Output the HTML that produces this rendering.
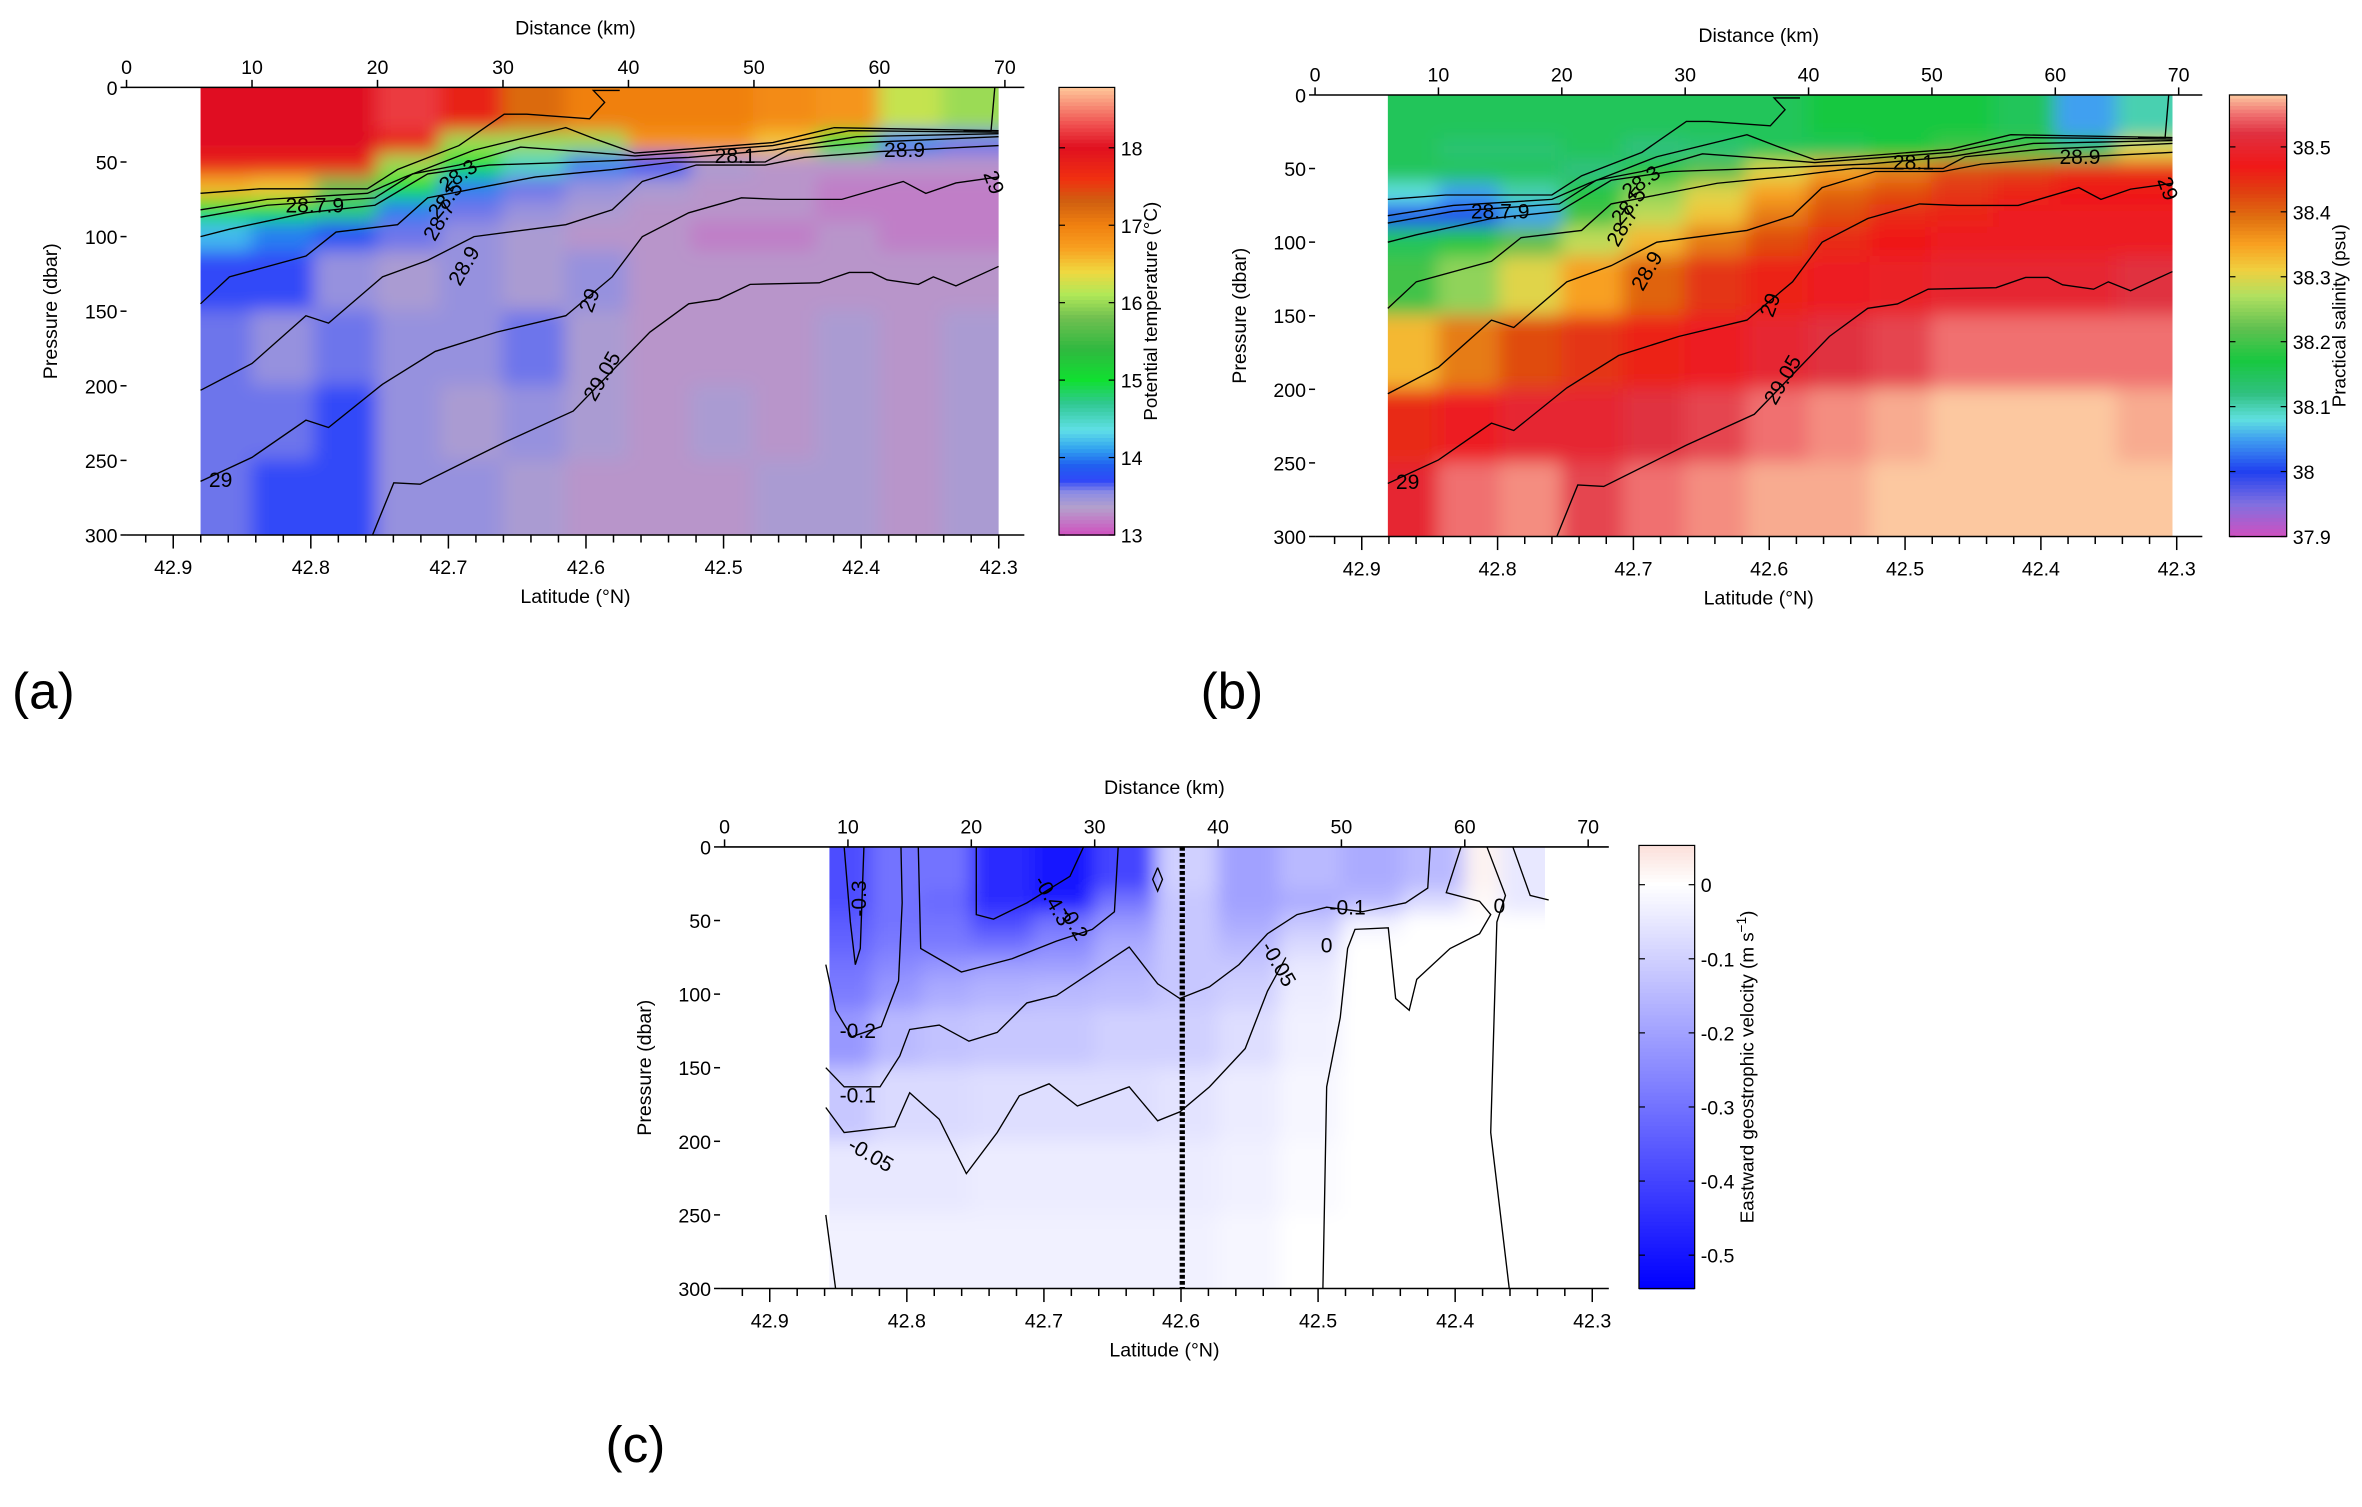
<!DOCTYPE html>
<html><head><meta charset="utf-8"><style>
html,body{margin:0;padding:0;background:#fff}
svg{display:block}
text{font-family:"Liberation Sans Narrow","Liberation Sans",sans-serif;fill:#000}
</style></head><body>
<svg id="fig" xmlns="http://www.w3.org/2000/svg" width="2362" height="1507" viewBox="0 0 1568 1000" preserveAspectRatio="none">
<defs>
<filter id="blur" x="-10%" y="-10%" width="120%" height="120%"><feGaussianBlur stdDeviation="6"/></filter>
</defs>
</svg>
<script>
// ---------- DATA ----------
const depthEdges = [0,30,45,60,75,90,110,150,200,250,300];
const tsDistEdges = [5.9,10,15,20,25,30,35,40,45,50,55,60,65,69.5];
const tempGrid = [
[18,18,18,18.2,17.8,17.2,17,17,17,16.9,16.8,16.2,16],
[18,18,18,17.8,16,16,16,16.8,16.8,16.5,15,14,13.6],
[17.8,17.8,17.8,16,15,14.5,14,13.8,13.4,13.3,13.3,13.3,13.3],
[16.6,16.5,15.8,15,14,13.6,13.5,13.4,13.3,13.3,13.2,13.2,13.2],
[15,15,14.8,14,13.6,13.5,13.4,13.3,13.3,13.3,13.2,13.2,13.2],
[14.2,14,13.8,13.6,13.5,13.4,13.3,13.3,13.2,13.2,13.3,13.2,13.2],
[13.7,13.7,13.5,13.4,13.5,13.4,13.5,13.3,13.3,13.3,13.3,13.3,13.3],
[13.6,13.5,13.6,13.5,13.5,13.6,13.4,13.3,13.3,13.3,13.4,13.3,13.4],
[13.6,13.6,13.7,13.5,13.4,13.5,13.4,13.3,13.4,13.3,13.4,13.3,13.4],
[13.6,13.7,13.7,13.5,13.5,13.4,13.3,13.3,13.3,13.4,13.4,13.3,13.4]];
const salGrid = [
[38.15,38.15,38.15,38.15,38.15,38.15,38.15,38.17,38.17,38.17,38.15,38.05,38.1],
[38.15,38.13,38.13,38.15,38.12,38.13,38.15,38.15,38.17,38.2,38.2,38.15,38.3],
[38.15,38.15,38.15,38.12,38.18,38.22,38.3,38.35,38.38,38.42,38.43,38.45,38.45],
[38.08,38.05,38.1,38.18,38.25,38.3,38.35,38.4,38.42,38.44,38.46,38.47,38.47],
[38.0,38.0,38.05,38.2,38.28,38.32,38.38,38.42,38.45,38.46,38.48,38.48,38.48],
[38.15,38.18,38.22,38.28,38.33,38.38,38.42,38.45,38.47,38.48,38.48,38.48,38.48],
[38.2,38.25,38.3,38.35,38.4,38.44,38.46,38.48,38.49,38.5,38.5,38.5,38.52],
[38.33,38.38,38.42,38.44,38.46,38.48,38.5,38.52,38.53,38.55,38.55,38.55,38.55],
[38.45,38.48,38.5,38.5,38.52,38.53,38.55,38.56,38.57,38.58,38.58,38.58,38.57],
[38.5,38.55,38.56,38.53,38.55,38.56,38.57,38.57,38.58,38.58,38.58,38.58,38.58]];
const velDistEdges = [8.5,12,16,20,25,30,35,40,45,50,55,60,63,66.5];
const velGrid = [
[-0.38,-0.3,-0.3,-0.45,-0.5,-0.4,-0.1,-0.2,-0.15,-0.18,-0.15,0.02,-0.05],
[-0.38,-0.3,-0.32,-0.45,-0.48,-0.3,-0.12,-0.2,-0.18,-0.15,-0.08,0.01,-0.05],
[-0.35,-0.3,-0.3,-0.38,-0.3,-0.22,-0.12,-0.18,-0.12,-0.03,0,0,0],
[-0.33,-0.28,-0.28,-0.3,-0.25,-0.18,-0.12,-0.15,-0.08,0,0,0,0],
[-0.3,-0.25,-0.22,-0.2,-0.2,-0.16,-0.12,-0.12,-0.05,0,0,0,0],
[-0.28,-0.22,-0.18,-0.16,-0.15,-0.14,-0.12,-0.1,-0.04,0,0,0,0],
[-0.22,-0.15,-0.13,-0.12,-0.12,-0.1,-0.1,-0.07,-0.03,0,0,0,0],
[-0.12,-0.08,-0.08,-0.07,-0.07,-0.07,-0.06,-0.04,-0.02,0,0,0,0],
[-0.05,-0.05,-0.05,-0.04,-0.04,-0.04,-0.04,-0.03,-0.01,0,0,0,0],
[-0.03,-0.03,-0.03,-0.03,-0.03,-0.03,-0.03,-0.02,0,0,0,0,0]];
// density contours [distance km, pressure dbar]
const c2905 = [[19.6,300],[21.3,265],[23.4,266],[27.7,248],[30.1,238],[35.6,217],[38.7,190],[41.7,164],[44.8,145],[47.2,142],[49.7,132],[55.2,131],[57.6,124],[59.4,124],[60.6,129],[63.1,132],[64.3,127],[66.1,133],[69.5,120]];
const c29 = [[5.9,264],[10,248],[14.3,223],[16.1,228],[20.4,199],[24.6,177],[29.5,164],[35,153],[38.7,127],[41.1,100],[44.8,84],[49,74],[52.1,75],[57,75],[61.9,63],[63.7,71],[66.1,64],[69.5,60]];
const c289 = [[5.9,203],[10,185],[14.3,153],[16.1,158],[20.4,127],[24,116],[27.7,100],[35,92],[38.7,82],[41.1,63],[45.4,52],[50.9,52],[54,47],[60,43],[69.5,39]];
const c287 = [[5.9,145],[8.2,127],[14.3,113],[16.7,97],[21.6,92],[24,74],[28.9,66],[32.6,60],[38.7,55],[43.6,50],[50.9,50],[52.7,42],[58.8,37],[69.5,33]];
const c285 = [[5.9,100],[8.2,95],[14.3,84],[19.8,79],[24,58],[28.9,52],[36.2,50],[44.8,47],[51.5,42],[58.2,33],[69.5,31]];
const c283 = [[5.9,87],[11.2,79],[19.8,74],[22.8,58],[26.5,52],[31.4,40],[36.2,43],[40.5,46],[51.5,39],[57.6,29],[69.5,30]];
const c281 = [[5.9,82],[11.2,75],[19.2,71],[22.2,60],[27.7,42],[35,27],[37.5,35],[40.5,44],[51.5,37],[56.4,27],[69.5,29]];
const c279 = [[5.9,71],[10.6,68],[19.2,68],[21.6,55],[26.5,39],[30.1,18],[31.9,18],[36.9,21],[38.1,10],[37.2,2],[39.3,2]];
const c279b = [[69.2,0],[68.9,29],[66.7,29]];
const densityContours = [c2905,c29,c289,c287,c285,c283,c281,c279,c279b];
const densityLabels = [["28.1",48.5,47,0],["28.7.9",15,80,0],["28.3",26.5,60,-35],["28.5",25.5,76,-50],["28.7",25,90,-60],["28.9",27,120,-60],["29",37,143,-70],["29.05",38,194,-60],["29",7.5,264,0],["28.9",62,43,0],["29",69,64,70]];
// velocity contours
const vN03 = [[9.7,0],[10.2,51],[10.6,80],[11,69],[11.3,0]];
const vN02a = [[8.2,80],[9,111],[10.3,129],[12.7,122],[14.1,91],[14.4,38],[14.3,0]];
const vN03b = [[15.7,0],[15.9,69],[19.2,85],[23.3,76],[26.9,64],[29.8,56],[31.6,44],[31.9,0]];
const vN04 = [[20.4,0],[20.4,46],[21.8,49],[24.5,38],[28,20],[29.1,0]];
const vN01 = [[8.2,150],[9.7,163],[12.6,163],[14.2,142],[15,124],[17.4,121],[19.8,132],[22.1,126],[24.5,106],[26.9,101],[32.8,68],[35.1,93],[36.9,103],[39.3,95],[41.7,80],[44,59],[46.4,46],[48.8,41],[51.7,44],[55.2,38],[57,28],[57.2,0]];
const vN005 = [[8.2,177],[9.7,194],[13.8,190],[15,167],[17.4,185],[19.6,222],[22.1,194],[23.9,169],[26.3,161],[28.6,176],[32.8,163],[35.1,186],[36.9,180],[39.3,163],[42.2,137],[44,98],[45.5,75]];
const vZero1 = [[59.7,0],[58.5,31],[61.2,37],[62.1,46],[61.2,59],[58.8,69],[56.1,90],[55.5,111],[54.4,103],[53.8,55],[51.1,56],[50.5,69],[49.9,116],[48.8,163],[48.5,300]];
const vZero2 = [[61.8,0],[63.3,33],[62.6,51],[62.1,194],[63.6,300]];
const vZero3 = [[63.9,0],[65.3,33],[66.8,36]];
const vZero4 = [[8.2,250],[9,300]];
const vZeroLoop = [[35.1,14],[34.7,22],[35.1,30],[35.5,22],[35.1,14]];
const velContours = [vN03,vN02a,vN03b,vN04,vN01,vN005,vZero1,vZero2,vZero3,vZero4,vZeroLoop];
const velLabels = [["-0.3",11,35,-90],["-0.4.3",26.5,37,60],["-0.2",28.2,52,60],["-0.2",10.8,126,0],["-0.1",10.8,170,0],["-0.05",11.8,210,30],["-0.05",44.8,80,60],["-0.1",50.5,42,0],["0",48.8,68,0],["0",62.8,41,0]];
const sectionDistance = 37.1;
const distTicks = [0,10,20,30,40,50,60,70];
const presTicks = [0,50,100,150,200,250,300];
const latTicks = ["42.9","42.8","42.7","42.6","42.5","42.4","42.3"];
const tempCbTicks = [13,14,15,16,17,18];
const salCbTicks = ["37.9","38","38.1","38.2","38.3","38.4","38.5"];
const velCbTicks = ["0","-0.1","-0.2","-0.3","-0.4","-0.5"];

// ---------- colormaps ----------
const tempStops=[[13,'#d050c0'],[13.35,'#b4a0cc'],[13.55,'#8c8ce4'],[13.7,'#3048f8'],[13.9,'#2060f0'],[14.1,'#30a0f0'],[14.35,'#60e0e8'],[14.7,'#30c890'],[15,'#10e030'],[15.4,'#30b840'],[15.8,'#70c050'],[16.1,'#b0e858'],[16.4,'#f0d840'],[16.7,'#f8a020'],[17,'#f08010'],[17.3,'#d06010'],[17.6,'#f03010'],[18,'#e01020'],[18.3,'#f05050'],[18.78,'#ffc89a']];
const salStops=[[37.9,'#d050c0'],[37.95,'#8070e0'],[38.0,'#2040f0'],[38.05,'#40a0f0'],[38.08,'#60e0e0'],[38.12,'#30c080'],[38.17,'#18c840'],[38.22,'#60c050'],[38.27,'#b0e060'],[38.31,'#f0d040'],[38.35,'#f8a020'],[38.39,'#e07010'],[38.43,'#e04010'],[38.47,'#f01818'],[38.52,'#e03040'],[38.55,'#f07070'],[38.58,'#fcc8a0']];
const velStops=[[-0.545,'#0000ff'],[0,'#ffffff'],[0.053,'#fbe0da']];
function hex(c){return [parseInt(c.slice(1,3),16),parseInt(c.slice(3,5),16),parseInt(c.slice(5,7),16)];}
function cmap(stops,v){
  if(v<=stops[0][0])return stops[0][1];
  for(let i=1;i<stops.length;i++){if(v<=stops[i][0]){const a=hex(stops[i-1][1]),b=hex(stops[i][1]);const t=(v-stops[i-1][0])/(stops[i][0]-stops[i-1][0]);return 'rgb('+a.map((x,k)=>Math.round(x+(b[k]-x)*t)).join(',')+')';}}
  return stops[stops.length-1][1];
}
const NS='http://www.w3.org/2000/svg';
const svg=document.getElementById('fig');
function el(tag,attrs,parent){const e=document.createElementNS(NS,tag);for(const k in attrs)e.setAttribute(k,attrs[k]);(parent||svg).appendChild(e);return e;}

function panel(P){
  const g=el('g',{});
  
  
  const X=d=>P.x0+d*P.kx, Y=p=>P.T+p*(P.B-P.T)/300;
  const LX=lat=>P.lat09+(42.9-lat)*(P.lat03-P.lat09)/0.6;
  const cp=el('clipPath',{id:'clip'+P.id},g);
  el('rect',{x:X(P.edges[0]),y:P.T,width:X(P.edges[P.edges.length-1])-X(P.edges[0]),height:P.B-P.T},cp);
  const hg=el('g',{'clip-path':'url(#clip'+P.id+')'},g);
  
  
  const hb=el('g',{filter:'url(#blur)'},hg);
  const E=30;
  for(let j=0;j<depthEdges.length-1;j++)for(let i=0;i<P.edges.length-1;i++){
    const x1=X(P.edges[i]),x2=X(P.edges[i+1]),y1=Y(depthEdges[j]),y2=Y(depthEdges[j+1]);
    const r=el('rect',{x:x1-0.5-(i==0?E:0),y:y1-0.5-(j==0?E:0),width:x2-x1+1+(i==0?E:0)+(i==P.edges.length-2?E:0),height:y2-y1+1+(j==0?E:0)+(j==depthEdges.length-2?E:0),fill:cmap(P.stops,P.grid[j][i])},hb);
    
    
  }
  P.contours.forEach(c=>{
    const pl=el('polyline',{points:c.map(q=>X(q[0]).toFixed(1)+','+Y(q[1]).toFixed(1)).join(' '),fill:'none',stroke:'#000','stroke-width':0.9},g);
    
    
  });
  P.labels.forEach(l=>{
    const t=el('text',{x:X(l[1]),y:Y(l[2]),'font-size':14,'text-anchor':'middle','dominant-baseline':'middle',transform:'rotate('+l[3]+' '+X(l[1])+' '+Y(l[2])+')'},g);
    t.textContent=l[0];
    
    
  });
  if(P.dashed!==undefined){
    const dl=el('line',{x1:X(P.dashed),x2:X(P.dashed),y1:P.T,y2:P.B,stroke:'#000','stroke-width':3.5,'stroke-dasharray':'2.5,1.5'},g);
    
    
  }
  const ax=el('g',{stroke:'#000','stroke-width':1},g);
  
  
  el('line',{x1:P.L,x2:P.R,y1:P.T,y2:P.T},ax);
  el('line',{x1:P.L,x2:P.R,y1:P.B,y2:P.B},ax);
  distTicks.forEach(d=>{
    el('line',{x1:X(d),x2:X(d),y1:P.T,y2:P.T-5},ax);
    const t=el('text',{x:X(d),y:P.T-9,'font-size':13,'text-anchor':'middle',stroke:'none'},g);
    t.textContent=d;
    
    
  });
  presTicks.forEach(p=>{
    el('line',{x1:P.L-4,x2:P.L,y1:Y(p),y2:Y(p)},ax);
    const t=el('text',{x:P.L-6,y:Y(p)+5,'font-size':13,'text-anchor':'end',stroke:'none'},g);
    t.textContent=p;
    
    
  });
  for(let k=0;k<=32;k++){const lat=42.94-k*0.02;const x=LX(lat);if(x<P.L||x>P.R)continue;
    const major=Math.abs(Math.round(lat*10)-lat*10)<1e-6;
    el('line',{x1:x,x2:x,y1:P.B,y2:P.B+(major?9:5)},ax);}
  latTicks.forEach(s=>{
    const t=el('text',{x:LX(+s),y:P.B+26,'font-size':13,'text-anchor':'middle'},g);
    t.textContent=s;
    
    
  });
  const mid=(P.L+P.R)/2;
  let t=el('text',{x:mid,y:P.T-35,'font-size':13,'text-anchor':'middle'},g);t.textContent='Distance (km)';
  
  
  t=el('text',{x:mid,y:P.B+45,'font-size':13,'text-anchor':'middle'},g);t.textContent='Latitude (°N)';
  
  
  t=el('text',{x:0,y:0,'font-size':13,'text-anchor':'middle',transform:'translate('+(P.L-46)+','+((P.T+P.B)/2)+') rotate(-90)','font-family':'Liberation Sans, sans-serif'},g);t.textContent='Pressure (dbar)';
  
  
  const cb=el('g',{},g);
  
  
  const CY=v=>P.cb.top+(P.cb.vmax-v)*(P.cb.bot-P.cb.top)/(P.cb.vmax-P.cb.vmin);
  const n=120;
  for(let k=0;k<n;k++){const y1=P.cb.top+k*(P.cb.bot-P.cb.top)/n;const v=P.cb.vmax-(k+0.5)*(P.cb.vmax-P.cb.vmin)/n;
    el('rect',{x:P.cb.x,y:y1,width:P.cb.w,height:(P.cb.bot-P.cb.top)/n+0.6,fill:cmap(P.stops,v)},cb);}
  el('rect',{x:P.cb.x,y:P.cb.top,width:P.cb.w,height:P.cb.bot-P.cb.top,fill:'none',stroke:'#000','stroke-width':0.8},cb);
  P.cb.ticks.forEach(s=>{const y=CY(+s);
    el('line',{x1:P.cb.x+P.cb.w-4,x2:P.cb.x+P.cb.w,y1:y,y2:y,stroke:'#000','stroke-width':0.8},cb);
    el('line',{x1:P.cb.x,x2:P.cb.x+4,y1:y,y2:y,stroke:'#000','stroke-width':0.8},cb);
    const tt=el('text',{x:P.cb.x+P.cb.w+4,y:y+5,'font-size':13},cb);tt.textContent=s;
    
    
  });
  t=el('text',{x:0,y:0,'font-size':12.5,'text-anchor':'middle','font-family':'Liberation Sans, sans-serif',transform:'translate('+(P.cb.x+P.cb.w+P.cb.toff)+','+((P.cb.top+P.cb.bot)/2)+') rotate(-90)'},cb);
  t.innerHTML=P.cb.title;
  
  
}

panel({id:'a',name:'panel-a-temperature',L:84,R:680,T:58,B:355,x0:84,kx:8.33,lat09:115,lat03:663,edges:tsDistEdges,grid:tempGrid,stops:tempStops,contours:densityContours,labels:densityLabels,
  cb:{x:703,w:37,top:58,bot:355,vmax:18.78,vmin:13,ticks:tempCbTicks,toff:28,title:'Potential temperature (°C)'}});
panel({id:'b',name:'panel-b-salinity',L:873,R:1462,T:63,B:356,x0:873,kx:8.19,lat09:904,lat03:1445,edges:tsDistEdges,grid:salGrid,stops:salStops,contours:densityContours,labels:densityLabels,
  cb:{x:1480,w:38,top:63,bot:356,vmax:38.58,vmin:37.9,ticks:salCbTicks,toff:39,title:'Practical salinity (psu)'}});
panel({id:'c',name:'panel-c-velocity',L:478,R:1068,T:562,B:855,x0:481,kx:8.19,lat09:511,lat03:1057,edges:velDistEdges,grid:velGrid,stops:velStops,contours:velContours,labels:velLabels,dashed:sectionDistance,
  cb:{x:1088,w:37,top:561,bot:855,vmax:0.053,vmin:-0.545,ticks:velCbTicks,toff:39,title:'Eastward geostrophic velocity (m s<tspan dy="-5" font-size="9">−1</tspan><tspan dy="5">)</tspan>'}});

[['(a)',8,470],['(b)',797,470],['(c)',402,970]].forEach(s=>{
  const t=el('text',{x:s[1],y:s[2],'font-size':34,'font-family':'Liberation Serif, serif'});
  t.textContent=s[0];
  
  
});
</script>
</body></html>
